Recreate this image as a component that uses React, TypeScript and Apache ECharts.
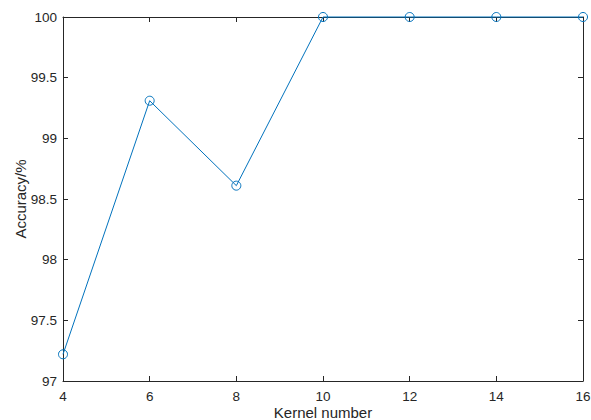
import React, { useEffect, useRef } from "react";
import * as echarts from "echarts";

const kernelNumbers = [4, 6, 8, 10, 12, 14, 16];
const accuracy = [97.22, 99.31, 98.61, 100, 100, 100, 100];

export default function App() {
  const ref = useRef<HTMLDivElement>(null);
  useEffect(() => {
    if (!ref.current) return;
    const chart = echarts.init(ref.current, undefined, { renderer: "svg" });
    const font = "Liberation Sans, Arial, Helvetica, sans-serif";
    const axisLine = { show: true, lineStyle: { color: "#262626", width: 1 } };
    const tick = { show: true, inside: true, length: 5, lineStyle: { color: "#262626", width: 1 } };
    chart.setOption({
      animation: false,
      backgroundColor: "#ffffff",
      grid: { left: 63, top: 17, right: 8, bottom: 39, containLabel: false, outerBoundsMode: "none" },
      xAxis: [
        {
          type: "value",
          min: 4,
          max: 16,
          interval: 2,
          name: "Kernel number",
          nameLocation: "middle",
          nameGap: 24,
          nameMoveOverlap: false,
          nameTextStyle: { fontFamily: font, fontSize: 15, color: "#262626" },
          axisLine,
          axisTick: tick,
          axisLabel: { fontFamily: font, fontSize: 13.5, color: "#262626", margin: 8 },
          splitLine: { show: false },
        },
        {
          type: "value",
          position: "top",
          min: 4,
          max: 16,
          interval: 2,
          axisLine,
          axisTick: tick,
          axisLabel: { show: false },
          splitLine: { show: false },
        },
      ],
      yAxis: [
        {
          type: "value",
          min: 97,
          max: 100,
          interval: 0.5,
          name: "Accuracy/%",
          nameLocation: "middle",
          nameGap: 35,
          nameMoveOverlap: false,
          nameTextStyle: { fontFamily: font, fontSize: 15, color: "#262626" },
          axisLine,
          axisTick: tick,
          axisLabel: { fontFamily: font, fontSize: 13.5, color: "#262626", margin: 6 },
          splitLine: { show: false },
        },
        {
          type: "value",
          position: "right",
          min: 97,
          max: 100,
          interval: 0.5,
          axisLine,
          axisTick: tick,
          axisLabel: { show: false },
          splitLine: { show: false },
        },
      ],
      series: [
        {
          type: "line",
          data: kernelNumbers.map((k, i) => [k, accuracy[i]]),
          clip: false,
          symbol: "circle",
          symbolSize: 9,
          showAllSymbol: true,
          lineStyle: { color: "#0072BD", width: 1 },
          itemStyle: { color: "rgba(0,0,0,0)", borderColor: "#0072BD", borderWidth: 1 },
          z: 5,
        },
      ],
    });
    return () => chart.dispose();
  }, []);
  return <div ref={ref} style={{ width: 591, height: 420, position: "absolute", left: 0, top: 0 }} />;
}
